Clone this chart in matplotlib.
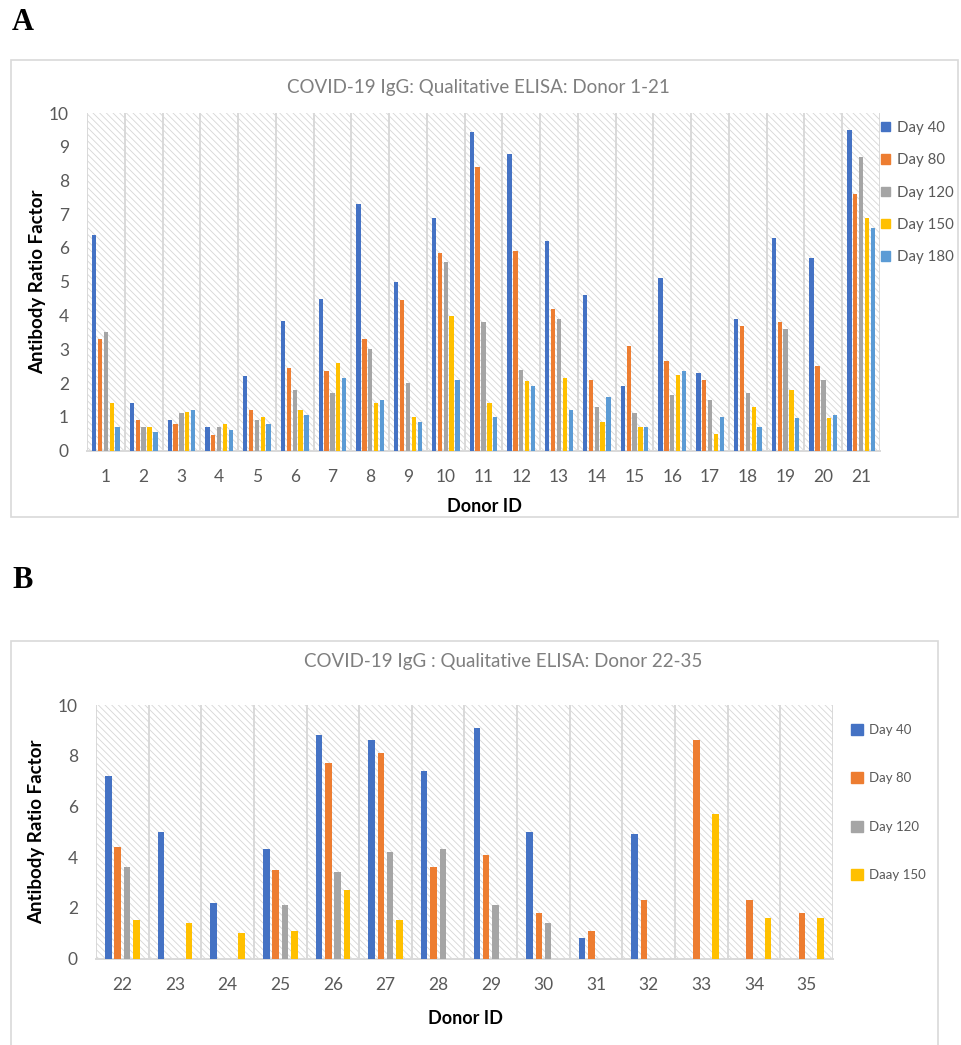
import numpy as np
import matplotlib.pyplot as plt
from matplotlib.patches import Rectangle, Patch

plt.rcParams['font.family'] = ['Lato', 'DejaVu Sans']
plt.rcParams['hatch.linewidth'] = 0.6

# Painel A: doadores 1-21
donors_a = list(range(1, 22))
day40_a = [6.4, 1.4, 0.9, 0.7, 2.2, 3.85, 4.5, 7.3, 5.0, 6.9, 9.45, 8.8, 6.2, 4.6, 1.9, 5.1, 2.3, 3.9, 6.3, 5.7, 9.5]
day80_a = [3.3, 0.9, 0.8, 0.45, 1.2, 2.45, 2.35, 3.3, 4.45, 5.85, 8.4, 5.9, 4.2, 2.1, 3.1, 2.65, 2.1, 3.7, 3.8, 2.5, 7.6]
day120_a = [3.5, 0.7, 1.1, 0.7, 0.9, 1.8, 1.7, 3.0, 2.0, 5.6, 3.8, 2.4, 3.9, 1.3, 1.1, 1.65, 1.5, 1.7, 3.6, 2.1, 8.7]
day150_a = [1.4, 0.7, 1.15, 0.8, 1.0, 1.2, 2.6, 1.4, 1.0, 4.0, 1.4, 2.05, 2.15, 0.85, 0.7, 2.25, 0.5, 1.3, 1.8, 0.95, 6.9]
day180_a = [0.7, 0.55, 1.2, 0.6, 0.8, 1.05, 2.15, 1.5, 0.85, 2.1, 1.0, 1.9, 1.2, 1.6, 0.7, 2.35, 1.0, 0.7, 0.95, 1.05, 6.6]
labels_a = ['Day 40', 'Day 80', 'Day 120', 'Day 150', 'Day 180']

# Painel B: doadores 22-35
donors_b = list(range(22, 36))
day40_b = [7.2, 5.0, 2.2, 4.3, 8.8, 8.6, 7.4, 9.1, 5.0, 0.8, 4.9, 0, 0, 0]
day80_b = [4.4, 0, 0, 3.5, 7.7, 8.1, 3.6, 4.1, 1.8, 1.1, 2.3, 8.6, 2.3, 1.8]
day120_b = [3.6, 0, 0, 2.1, 3.4, 4.2, 4.3, 2.1, 1.4, 0, 0, 0, 0, 0]
day150_b = [1.5, 1.4, 1.0, 1.1, 2.7, 1.5, 0, 0, 0, 0, 0, 5.7, 1.6, 1.6]
labels_b = ['Day 40', 'Day 80', 'Day 120', 'Daay 150']

cores = ['#4472C4', '#ED7D31', '#A5A5A5', '#FFC000', '#5B9BD5']
cinza_txt = '#595959'

fig = plt.figure(figsize=(9.62, 10.45), dpi=100)
W, H = 962, 1045


def fbox(x0, y0, x1, y1):
    # pixels -> fração da figura
    return [x0 / W, 1 - y1 / H, (x1 - x0) / W, (y1 - y0) / H]


def painel(ax, donors, series, slot, largura):
    n = len(series)
    x = np.arange(len(donors))
    ax.add_patch(Rectangle((0, 0), 1, 1, transform=ax.transAxes, facecolor='white',
                           edgecolor='#d6d6d6', linewidth=0, hatch='\\' * 5, zorder=0))
    for k, vals in enumerate(series):
        ax.bar(x + (k - (n - 1) / 2) * slot, vals, width=largura, color=cores[k], zorder=3)
    for b in np.arange(-0.5, len(donors), 1.0):
        ax.axvline(b, color='#d9d9d9', lw=1.4, zorder=1)
    ax.set_xlim(-0.5, len(donors) - 0.5)
    ax.set_xticks(x)
    ax.set_xticklabels([str(d) for d in donors])
    for s in ['top', 'right', 'left']:
        ax.spines[s].set_visible(False)
    ax.spines['bottom'].set_color('#d9d9d9')
    ax.spines['bottom'].set_linewidth(1.4)
    ax.tick_params(length=0, labelsize=12.5, labelcolor=cinza_txt, pad=13)


# ---- A ----
fig.add_artist(Rectangle((11 / W, 1 - 517 / H), 947 / W, 457 / H, transform=fig.transFigure,
                         fill=False, edgecolor='#d9d9d9', lw=1.2))
axA = fig.add_axes(fbox(87, 113, 880, 450.5))
painel(axA, donors_a, [day40_a, day80_a, day120_a, day150_a, day180_a], 0.155, 0.115)
axA.set_ylim(0, 10)
axA.set_yticks(range(0, 11))
axA.set_ylabel('Antibody Ratio Factor', fontsize=13.5, fontweight='bold')
axA.yaxis.set_label_coords(-0.052, 0.5)
fig.text(478 / W, 1 - 88 / H, 'COVID-19 IgG: Qualitative ELISA: Donor 1-21', ha='center', va='center',
         fontsize=13.5, color='#7f7f7f')
fig.text(484 / W, 1 - 506 / H, 'Donor ID', ha='center', va='center', fontsize=13, fontweight='bold')
handles_a = [Patch(color=c) for c in cores]
fig.legend(handles_a, labels_a, loc='upper left', bbox_to_anchor=(881 / W, 1 - 121 / H), frameon=False,
           fontsize=10.8, handlelength=0.6, handleheight=0.6, handletextpad=0.45, labelspacing=1.22,
           borderpad=0, borderaxespad=0, labelcolor=cinza_txt)
fig.text(12 / W, 1 - 22 / H, 'A', fontsize=22, fontweight='bold', family='Liberation Serif', va='center')

# ---- B ----
fig.add_artist(Rectangle((11 / W, 1 - 1060 / H), 927 / W, 419 / H, transform=fig.transFigure,
                         fill=False, edgecolor='#d9d9d9', lw=1.2))
axB = fig.add_axes(fbox(96, 705, 833, 958.5))
painel(axB, donors_b, [day40_b, day80_b, day120_b, day150_b], 0.177, 0.125)
axB.set_ylim(0, 10)
axB.set_yticks(range(0, 11, 2))
axB.set_ylabel('Antibody Ratio Factor', fontsize=13.5, fontweight='bold')
axB.yaxis.set_label_coords(-0.069, 0.5)
fig.text(503 / W, 1 - 662 / H, 'COVID-19 IgG : Qualitative ELISA: Donor 22-35', ha='center', va='center',
         fontsize=13.5, color='#7f7f7f')
fig.text(465 / W, 1 - 1018 / H, 'Donor ID', ha='center', va='center', fontsize=13, fontweight='bold')
handles_b = [Patch(color=c) for c in cores[:4]]
fig.legend(handles_b, labels_b, loc='upper left', bbox_to_anchor=(851 / W, 1 - 724 / H), frameon=False,
           fontsize=9.5, handlelength=0.9, handleheight=0.9, handletextpad=0.45, labelspacing=2.75,
           borderpad=0, borderaxespad=0, labelcolor=cinza_txt)
fig.text(12 / W, 1 - 580 / H, 'B', fontsize=22, fontweight='bold', family='Liberation Serif', va='center')

fig.savefig('out.png', dpi=100)
